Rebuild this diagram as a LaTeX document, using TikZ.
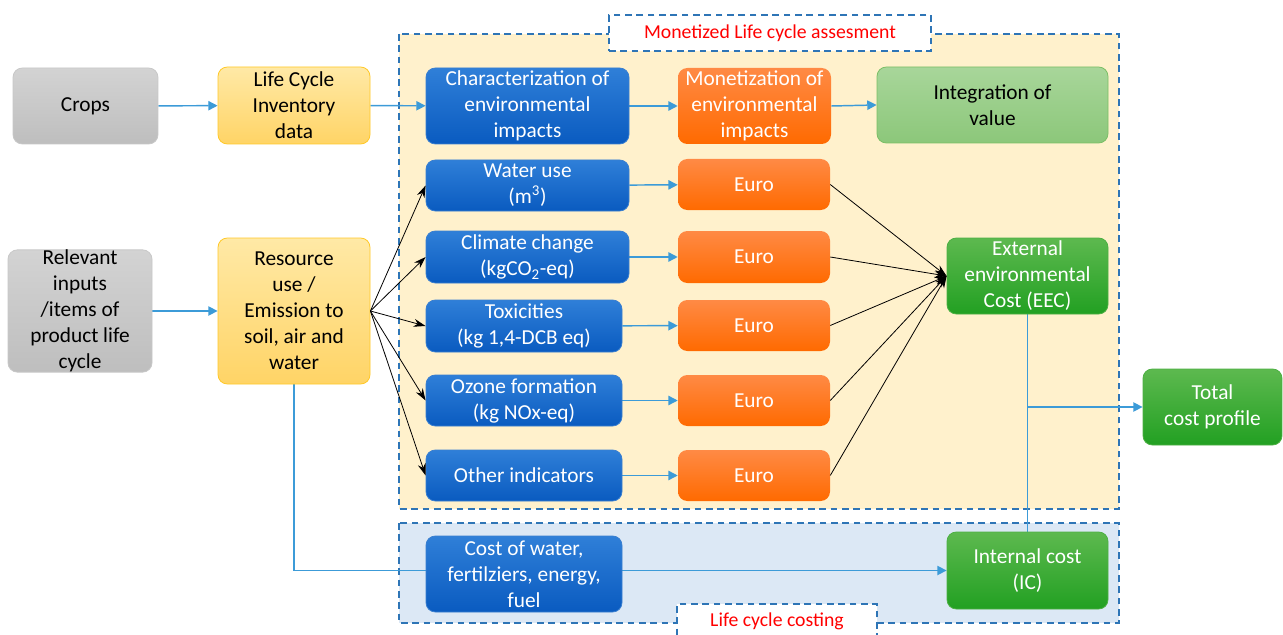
\documentclass[tikz,border=0pt]{standalone}
\usepackage{fontspec}
\setmainfont{Carlito}
\usetikzlibrary{arrows.meta}
\pgfdeclarelayer{back}
\pgfdeclarelayer{bg}
\pgfsetlayers{back,bg,main}

\definecolor{conn}{HTML}{3C9BD8}
\definecolor{dashc}{HTML}{2E75B6}
\definecolor{grayT}{HTML}{D3D3D3}
\definecolor{grayB}{HTML}{BEBEBE}
\definecolor{grayL}{HTML}{C8C8C8}
\definecolor{yelT}{HTML}{FFE9A6}
\definecolor{yelB}{HTML}{FFD466}
\definecolor{yelL}{HTML}{FFC928}
\definecolor{bluT}{HTML}{2F7FD8}
\definecolor{bluB}{HTML}{0A5BC0}
\definecolor{bluL}{HTML}{3A7FD0}
\definecolor{orT}{HTML}{FF8A45}
\definecolor{orB}{HTML}{FF6A00}
\definecolor{lgT}{HTML}{A8D69A}
\definecolor{lgB}{HTML}{8CC77A}
\definecolor{lgL}{HTML}{7BBF66}
\definecolor{gT}{HTML}{5DB94F}
\definecolor{gB}{HTML}{22A022}
\definecolor{gL}{HTML}{4DB044}
\definecolor{yreg}{HTML}{FFF1CC}
\definecolor{breg}{HTML}{DCE8F5}
\definecolor{labred}{HTML}{FF0000}

\newcommand\mkbox[7]{%
  \pgfmathsetmacro\mcx{(#3+#5)/2}%
  \pgfmathsetmacro\mcy{(#4+#6)/2}%
  \pgfmathsetmacro\mww{(#5-#3)*0.75}%
  \pgfmathsetmacro\mhh{(#6-#4)*0.75}%
  \node[#2,minimum width=\mww pt,minimum height=\mhh pt] (#1) at (\mcx,\mcy) {#7};}

\tikzset{
  box/.style={rounded corners=7pt, inner sep=0pt, align=center,
    font=\fontsize{16}{19.5}\selectfont},
  graybox/.style={box, top color=grayT, bottom color=grayB, draw=grayL, line width=0.6pt, text=black},
  yelbox/.style={box, top color=yelT, bottom color=yelB, draw=yelL, line width=0.6pt, text=black},
  bluebox/.style={box, top color=bluT, bottom color=bluB, draw=bluL, line width=0.6pt, text=white},
  orbox/.style={box, top color=orT, bottom color=orB, text=white},
  lgbox/.style={box, top color=lgT, bottom color=lgB, draw=lgL, line width=0.6pt, text=black},
  gbox/.style={box, top color=gT, bottom color=gB, draw=gL, line width=0.6pt, text=white},
  labbox/.style={inner sep=0pt, fill=white, draw=dashc, line width=1.3pt,
    dash pattern=on 5pt off 3.5pt, text=labred, font=\fontsize{14.8}{17}\selectfont},
  region/.style={draw=dashc, line width=1.3pt, dash pattern=on 5pt off 3.5pt},
  flow/.style={draw=conn, line width=1.1pt, -{Triangle[length=7pt,width=7pt]}},
  blk/.style={draw=black, line width=0.6pt, -{Stealth[length=9pt,width=6pt]}},
}

\begin{document}
\begin{tikzpicture}[x=0.75pt,y=-0.75pt]
\clip (0,0) rectangle (1283,635);
\begin{pgfonlayer}{back}
\fill[white] (0,0) rectangle (1283,635);
% regions
\fill[yreg] (399,34) rectangle (1119,509);
\draw[region] (399,34) rectangle (1119,509);
\fill[breg] (399,523) rectangle (1119,623);
\draw[region] (399,523) rectangle (1119,623);
\end{pgfonlayer}
\mkbox{t1}{labbox}{609}{15}{931}{51}{Monetized Life cycle assesment}
\mkbox{t2}{labbox}{677}{604}{877}{644}{\raisebox{6pt}{Life cycle costing}}

% boxes
\mkbox{crops}{graybox}{13}{68}{158}{144}{Crops}
\mkbox{lci}{yelbox}{218}{67}{370}{144}{Life Cycle\\Inventory\\data}
\mkbox{char}{bluebox}{426}{68}{629}{144}{Characterization of\\environmental\\impacts}
\mkbox{mon}{orbox}{678}{68}{831}{144}{Monetization of\\environmental\\impacts}
\mkbox{integ}{lgbox}{877}{67}{1108}{143}{Integration of\\value}
\mkbox{wat}{bluebox}{426}{160}{629}{211}{Water use\\(m\textsuperscript{3})}
\mkbox{e1}{orbox}{678}{159}{830}{210}{Euro}
\mkbox{clim}{bluebox}{426}{231}{629}{283}{Climate change\\(kgCO\textsubscript{2}-eq)}
\mkbox{e2}{orbox}{678}{231}{830}{283}{Euro}
\mkbox{tox}{bluebox}{426}{300}{622}{352}{Toxicities\\(kg 1,4-DCB eq)}
\mkbox{e3}{orbox}{678}{300}{830}{351}{Euro}
\mkbox{ozo}{bluebox}{426}{375}{622}{426}{Ozone formation\\(kg NOx-eq)}
\mkbox{e4}{orbox}{678}{375}{830}{426}{Euro}
\mkbox{oth}{bluebox}{426}{450}{622}{501}{Other indicators}
\mkbox{e5}{orbox}{678}{450}{830}{501}{Euro}
\mkbox{eec}{gbox}{947}{238}{1108}{314}{External\\environmental\\Cost (EEC)}
\mkbox{tot}{gbox}{1143}{369}{1282}{445}{Total\\cost profile}
\mkbox{relev}{graybox}{8}{251}{152}{371}{Relevant\\inputs\\/items of\\product life\\cycle}
\mkbox{res}{yelbox}{218}{238}{370}{384}{Resource\\use /\\Emission to\\soil, air and\\water}
\mkbox{cost}{bluebox}{426}{536}{622}{612}{Cost of water,\\fertilziers, energy,\\fuel}
\mkbox{ic}{gbox}{947}{532}{1108}{609}{Internal cost\\(IC)}

% connectors
\begin{pgfonlayer}{bg}
\draw[flow] (crops) -- (lci);
\draw[flow] (lci) -- (char);
\draw[flow] (char) -- (mon);
\draw[flow] (mon.east) -- (integ.west);
\draw[flow] (wat) -- (e1);
\draw[flow] (clim) -- (e2);
\draw[flow] (tox) -- (e3);
\draw[flow] (ozo) -- (e4);
\draw[flow] (oth) -- (e5);
\draw[flow] (relev) -- (res);
\draw[flow] (res.south) |- (ic.west);
\draw[conn, line width=1.1pt] (eec.south) -- (ic.north);
\coordinate (j) at (eec.south |- tot.west);
\draw[flow] (j) -- (tot.west);
\end{pgfonlayer}

\foreach \t in {wat,clim,tox,ozo,oth}
  \draw[blk] (res.east) -- (\t.west);
\foreach \e in {e1,e2,e3,e4,e5}
  \draw[blk] (\e.east) -- (eec.west);
\end{tikzpicture}
\end{document}
